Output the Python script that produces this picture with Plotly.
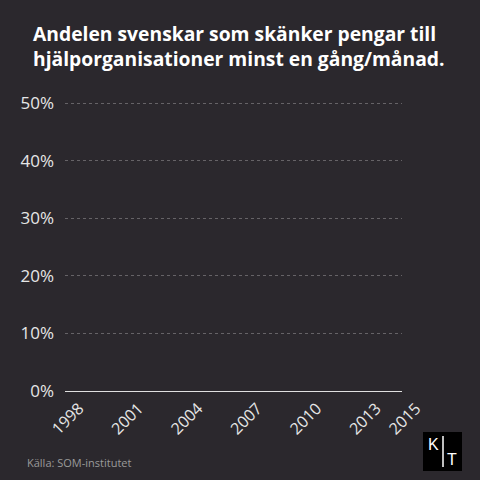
import plotly.graph_objects as go

# Chart frame as shown: axes only, no series drawn yet
x_ticks = [1998, 2001, 2004, 2007, 2010, 2013, 2015]
y_ticks = [0, 10, 20, 30, 40, 50]
y_labels = [f"{v}%" for v in y_ticks]

TITLE = "Andelen svenskar som skänker pengar till<br>hjälporganisationer minst en gång/månad."
SOURCE = "Källa: SOM-institutet"

BG = "#2b282d"
FONT = "Open Sans"

# plot area in pixels
L, R, T, B = 65, 78, 97, 89
PW, PH = 480 - L - R, 480 - T - B


def px(x):
    return (x - L) / PW


def py(y):
    return (480 - B - y) / PH


fig = go.Figure()

fig.update_layout(
    width=480,
    height=480,
    paper_bgcolor=BG,
    plot_bgcolor=BG,
    margin=dict(l=L, r=R, t=T, b=B),
    showlegend=False,
    title=dict(
        text=TITLE,
        x=33 / 480,
        xanchor="left",
        y=1 - 41 / 480,
        yanchor="top",
        font=dict(family=FONT, size=19.3, color="white", weight="bold"),
    ),
    xaxis=dict(
        range=[x_ticks[0], x_ticks[-1]],
        tickvals=x_ticks,
        ticktext=[str(v) for v in x_ticks],
        tickangle=-45,
        ticklabelshift=14,
        ticklabelstandoff=4,
        showgrid=False,
        zeroline=False,
        showline=False,
        ticks="",
        tickfont=dict(family=FONT, size=16, color="#e6e6e6"),
        fixedrange=True,
    ),
    yaxis=dict(
        range=[0, 50 * PH / 288],
        tickvals=y_ticks,
        ticktext=y_labels,
        showgrid=True,
        gridcolor="rgba(255,255,255,0.28)",
        griddash="dot",
        gridwidth=1,
        zeroline=True,
        zerolinecolor="#e0e0e0",
        zerolinewidth=1.3,
        ticks="",
        ticklabelstandoff=10,
        tickfont=dict(family=FONT, size=17, color="#e6e6e6"),
        fixedrange=True,
    ),
)

fig.add_annotation(
    text=SOURCE, xref="paper", yref="paper",
    x=px(25), y=py(462), xanchor="left", yanchor="middle",
    showarrow=False, font=dict(family=FONT, size=11, color="#9a9a9a"),
)

# KT logo
fig.add_shape(type="rect", xref="paper", yref="paper",
              x0=px(423), x1=px(462), y0=py(471), y1=py(432),
              fillcolor="black", line=dict(width=0))
fig.add_shape(type="line", xref="paper", yref="paper",
              x0=px(443), x1=px(443), y0=py(467), y1=py(436),
              line=dict(color="white", width=1.5))
fig.add_annotation(text="K", xref="paper", yref="paper", x=px(433), y=py(444),
                   xanchor="center", yanchor="middle", showarrow=False,
                   font=dict(family="Liberation Sans", size=16, color="white"))
fig.add_annotation(text="T", xref="paper", yref="paper", x=px(452.5), y=py(459),
                   xanchor="center", yanchor="middle", showarrow=False,
                   font=dict(family="Liberation Sans", size=16, color="white"))

fig.write_html(
    "out.html",
    config={"displayModeBar": False},
    post_script="document.body.style.margin='0';document.body.style.overflow='hidden';",
)
